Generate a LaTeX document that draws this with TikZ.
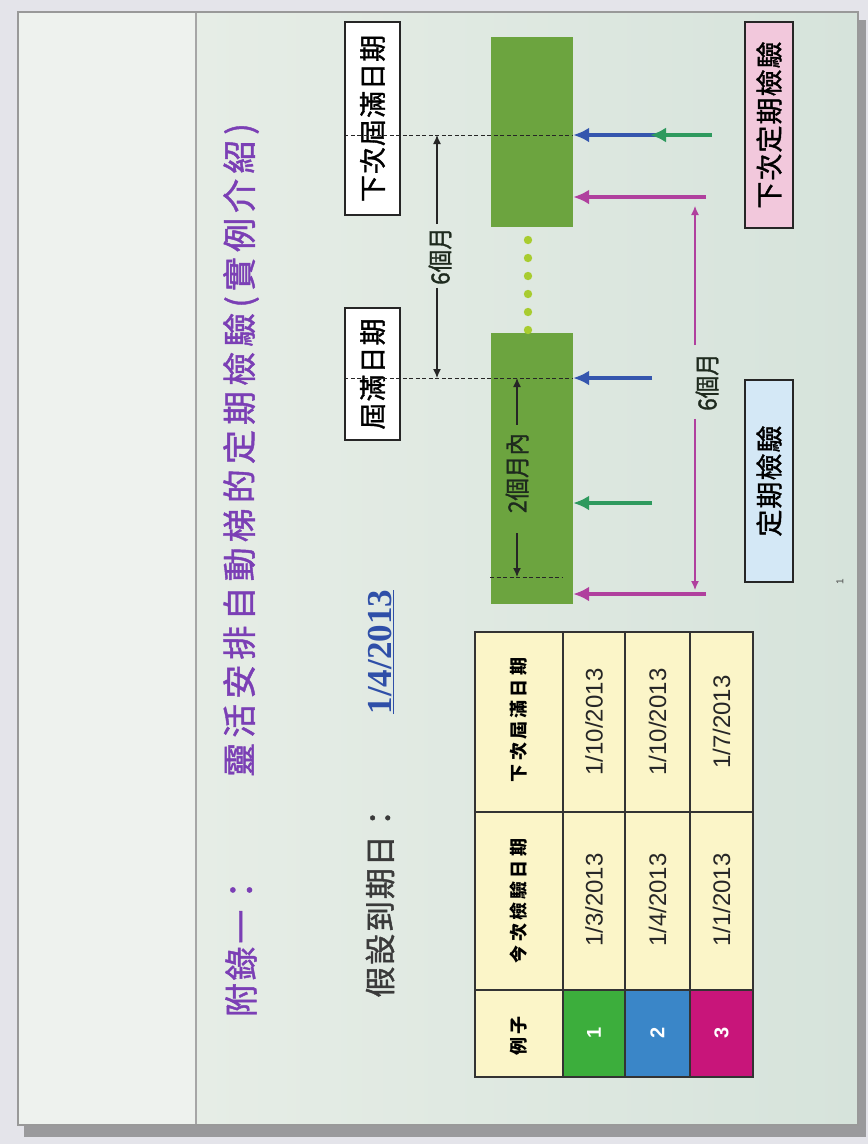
\documentclass[tikz,border=0pt]{standalone}
\usepackage{fontspec}
\usepackage{graphicx}
\setmainfont{Liberation Sans}
\newfontfamily\serifdate{Liberation Serif}
\newfontfamily\cjk{Noto Sans CJK TC}
\newfontfamily\cjkm[FakeBold=1.3]{Noto Sans CJK TC}
\usetikzlibrary{arrows.meta}
\definecolor{outerbg}{HTML}{E4E4EA}
\definecolor{shadowc}{HTML}{9A9A9C}
\definecolor{leftband}{HTML}{EEF2EE}
\definecolor{bgl}{HTML}{E6EDE6}
\definecolor{bgr}{HTML}{D6E3DB}
\definecolor{purp}{HTML}{7B3FB5}
\definecolor{darkt}{HTML}{3A3A3A}
\definecolor{datec}{HTML}{2F4FA8}
\definecolor{barg}{HTML}{6CA43F}
\definecolor{dotc}{HTML}{A8CC30}
\definecolor{arrb}{HTML}{3556AE}
\definecolor{arrg}{HTML}{2E9A5E}
\definecolor{arrm}{HTML}{B0409E}
\definecolor{pinkbox}{HTML}{F2C8DC}
\definecolor{bluebox}{HTML}{D4E8F6}
\definecolor{cream}{HTML}{FBF5C8}
\definecolor{ex1}{HTML}{3CAE3C}
\definecolor{ex2}{HTML}{3A86C8}
\definecolor{ex3}{HTML}{C8157A}
\definecolor{dimtext}{HTML}{1E2A1E}
\tikzset{
  vtext/.style={rotate=90, inner sep=0pt},
  lbox/.style={draw=black!85, line width=1.3pt, rotate=90, inner sep=0pt,
    font=\cjkm\fontsize{27}{30}\selectfont\addfontfeature{LetterSpace=4}},
  gbar/.style={fill=barg, draw=none, inner sep=0pt},
  arr/.style={line width=4pt, -{Latex[length=16pt,width=15pt]}},
  dimarr/.style={line width=1.2pt, -{Latex[length=9pt,width=8pt]}},
  dashln/.style={black!85, line width=1pt, dash pattern=on 4pt off 2.5pt},
  tline/.style={draw=black!80, line width=1.8pt},
  dimlbl/.style={vtext, font=\cjkm\fontsize{25}{27}\selectfont, text=dimtext},
  hdr/.style={vtext, font=\cjk\bfseries\fontsize{18}{20}\selectfont\addfontfeature{LetterSpace=18}},
  cell/.style={vtext, font=\fontsize{24}{26}\selectfont, text=black!85},
  num/.style={vtext, font=\bfseries\fontsize{20}{22}\selectfont, text=white}
}
\begin{document}
\begin{tikzpicture}[x=1pt,y=-1pt]
\useasboundingbox (0,0) rectangle (868,1144);
% background and slide frame
\fill[outerbg] (0,0) rectangle (868,1144);
\fill[shadowc] (24,20) rectangle (866,1137);
\fill[bgl] (18,12) rectangle (858,1125);
\shade[left color=bgl, right color=bgr] (196,12) rectangle (858,1125);
\fill[leftband] (18,12) rectangle (196,1125);
\draw[black!35, line width=1.5pt] (196,12) -- (196,1125);
\draw[black!40, line width=1.2pt] (18,12) rectangle (858,1125);

% titles
\node[vtext, text=purp, font=\cjkm\fontsize{34}{40}\selectfont\addfontfeature{LetterSpace=8}] (appx) at (241,945) {附錄一：};
\node[vtext, text=purp, font=\cjkm\fontsize{34}{40}\selectfont\addfontfeature{LetterSpace=15}] (title) at (241,450) {靈活安排自動梯的定期檢驗(實例介紹)};
\node[vtext, text=darkt, font=\cjkm\fontsize{31}{36}\selectfont\addfontfeature{LetterSpace=6}] (assume) at (380,900) {假設到期日：};
\node[vtext, text=datec, font=\serifdate\bfseries\fontsize{35}{38}\selectfont] (date) at (381,652) {\underline{1/4/2013}};

% label boxes
\node[lbox, fill=white, minimum width=193pt, minimum height=55pt] (nextexp) at (372.5,118.5) {下次屆滿日期};
\node[lbox, fill=white, minimum width=132pt, minimum height=55pt] (exp) at (372.5,374) {屆滿日期};
\node[lbox, fill=pinkbox, minimum width=206pt, minimum height=48pt] (nextinsp) at (769,125) {下次定期檢驗};
\node[lbox, fill=bluebox, minimum width=202pt, minimum height=48pt] (insp) at (769,481) {定期檢驗};

% green bars
\node[gbar, minimum width=82pt, minimum height=190pt] (g2) at (532,132) {};
\node[gbar, minimum width=82pt, minimum height=271pt] (g1) at (532,468.5) {};
\foreach \yy in {240,258,276,294,312,330} \fill[dotc] (528,\yy) circle (4.2);

% dashed reference lines
\coordinate (d1) at (573,135);
\coordinate (d2) at (573,378);
\draw[dashln] (nextexp.north |- d1) -- (d1);
\draw[dashln] (exp.north |- d2) -- (d2);
\coordinate (d3a) at (490,577);
\coordinate (d3b) at (562,577);
\draw[dashln] (d3a) -- (d3b);

% 6 months (black)
\node[dimlbl] (six1) at (440,256) {\scalebox{0.9}[1]{6個月}};
\coordinate (s1t) at (437,135);
\coordinate (s1b) at (437,378);
\draw[dimarr, black!85] (six1.east -| s1t) ++(0,-3) -- (s1t);
\draw[dimarr, black!85] (six1.west -| s1b) ++(0,3) -- (s1b);

% 2 months inside bar
\node[dimlbl] (two) at (517,473) {\scalebox{0.9}[1]{2個月內}};
\coordinate (t1t) at (517,378);
\coordinate (t1b) at (517,577);
\draw[dimarr, black!85] (two.east) ++(0,-8) -- (t1t);
\draw[dimarr, black!85] (two.west) ++(0,20) -- (t1b);

% inspection arrows
\coordinate (bA) at (660,135);
\coordinate (gA) at (712,135);
\coordinate (gAh) at (650,135);
\coordinate (mA) at (706,197);
\coordinate (bB) at (652,378);
\coordinate (gB) at (652,503);
\coordinate (mB) at (706,594);
\draw[arr, arrb] (bA) -- (bA -| g2.east);
\draw[arr, arrg] (gA) -- (gAh);
\draw[arr, arrm] (mA) -- (mA -| g2.east);
\draw[arr, arrb] (bB) -- (bB -| g1.east);
\draw[arr, arrg] (gB) -- (gB -| g1.east);
\draw[arr, arrm] (mB) -- (mB -| g1.east);

% 6 months (magenta)
\node[dimlbl] (six2) at (707,382) {\scalebox{0.9}[1]{6個月}};
\coordinate (s2t) at (695,206);
\coordinate (s2b) at (695,590);
\draw[dimarr, arrm] (six2.east -| s2t) ++(0,-8) -- (s2t);
\draw[dimarr, arrm] (six2.west -| s2b) ++(0,8) -- (s2b);

% page number
\node[vtext, font=\fontsize{10}{12}\selectfont, text=black!70] (pg) at (840,582) {1};

% table
\fill[cream] (475,632) rectangle (753,1077);
\fill[ex1] (563,990) rectangle (625,1077);
\fill[ex2] (625,990) rectangle (690,1077);
\fill[ex3] (690,990) rectangle (753,1077);
\draw[tline] (475,632) rectangle (753,1077);
\draw[tline] (563,632) -- (563,1077);
\draw[tline] (625,632) -- (625,1077);
\draw[tline] (690,632) -- (690,1077);
\draw[tline] (475,812) -- (753,812);
\draw[tline] (475,990) -- (753,990);
\node[hdr] (h1) at (519,1036) {例子};
\node[hdr] (h2) at (519,901) {今次檢驗日期};
\node[hdr] (h3) at (519,720) {下次屆滿日期};
\node[num] (n1) at (594,1033) {1};
\node[num] (n2) at (657.5,1033) {2};
\node[num] (n3) at (721.5,1033) {3};
\node[cell] (c11) at (594,900) {1/3/2013};
\node[cell] (c12) at (594,722) {1/10/2013};
\node[cell] (c21) at (657.5,900) {1/4/2013};
\node[cell] (c22) at (657.5,722) {1/10/2013};
\node[cell] (c31) at (721.5,900) {1/1/2013};
\node[cell] (c32) at (721.5,722) {1/7/2013};
\end{tikzpicture}
\end{document}
